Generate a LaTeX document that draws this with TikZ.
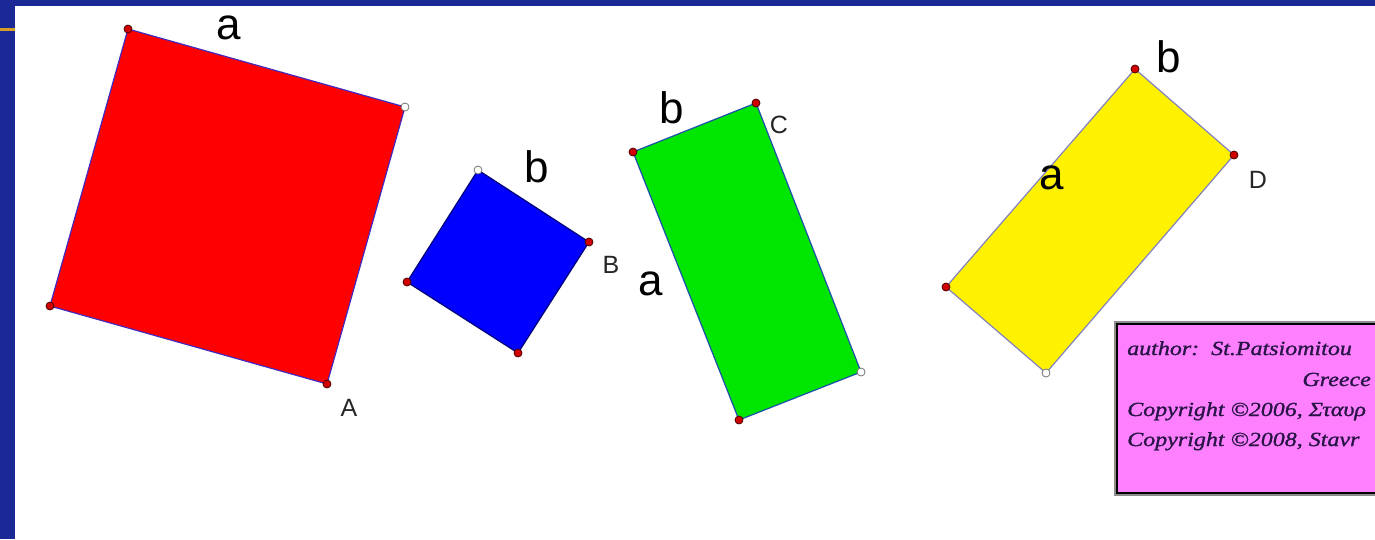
\documentclass[tikz,border=0pt]{standalone}
\usepackage{fontspec}
\setmainfont{Liberation Sans}
\newfontfamily\boxfont[FakeStretch=1.2,FakeBold=1.2]{Liberation Serif}
\definecolor{frameblue}{RGB}{27,41,150}
\definecolor{goldline}{RGB}{214,158,40}
\definecolor{pinkbox}{RGB}{255,128,255}
\definecolor{greenfill}{RGB}{0,230,0}
\definecolor{dotred}{RGB}{208,0,0}
\definecolor{boxink}{RGB}{40,20,70}
\tikzset{
  redpt/.style={circle,fill=dotred,draw=black!70!red,line width=0.8pt,inner sep=0pt,minimum size=8pt},
  whitept/.style={circle,fill=white,draw=black!55,line width=0.8pt,inner sep=0pt,minimum size=8pt},
  biglabel/.style={inner sep=0pt,font=\fontsize{44}{48}\selectfont},
  smalllabel/.style={inner sep=0pt,font=\fontsize{25}{28}\selectfont, text=black!85},
  boxtext/.style={inner sep=0pt,anchor=base west,font=\boxfont\itshape\fontsize{20}{22}\selectfont,text=boxink}
}
\begin{document}
\begin{tikzpicture}[x=1pt,y=-1pt]
\useasboundingbox (0,0) rectangle (1375,539);
\fill[white] (0,0) rectangle (1375,539);
% frame
\fill[frameblue] (0,0) rectangle (1375,6);
\fill[frameblue] (0,0) rectangle (15,539);
\fill[goldline] (0,28) rectangle (15,31);
% coordinates
\coordinate (R1) at (128,29);
\coordinate (R2) at (405,107);
\coordinate (R3) at (327,384);
\coordinate (R4) at (50,306);
\coordinate (B1) at (478,170);
\coordinate (B2) at (589,242);
\coordinate (B3) at (518,353);
\coordinate (B4) at (407,282);
\coordinate (G1) at (633,152);
\coordinate (G2) at (756,103);
\coordinate (G3) at (861,372);
\coordinate (G4) at (739,420);
\coordinate (Y1) at (1135,69);
\coordinate (Y2) at (1234,155);
\coordinate (Y3) at (1046,373);
\coordinate (Y4) at (946,287);
% shapes
\filldraw[fill=red,draw={rgb,255:red,70;green,40;blue,190},line width=1.2pt,line join=round] (R1) -- (R2) -- (R3) -- (R4) -- cycle;
\filldraw[fill=blue,draw={rgb,255:red,0;green,0;blue,120},line width=1.2pt,line join=round] (B1) -- (B2) -- (B3) -- (B4) -- cycle;
\filldraw[fill=greenfill,draw={rgb,255:red,30;green,80;blue,170},line width=1.2pt,line join=round] (G1) -- (G2) -- (G3) -- (G4) -- cycle;
\filldraw[fill=yellow,draw={rgb,255:red,130;green,130;blue,190},line width=1.2pt,line join=round] (Y1) -- (Y2) -- (Y3) -- (Y4) -- cycle;
% points
\node[redpt] (r1) at (R1) {};
\node[whitept] (r2) at (R2) {};
\node[redpt] (r3) at (R3) {};
\node[redpt] (r4) at (R4) {};
\node[whitept] (b1) at (B1) {};
\node[redpt] (b2) at (B2) {};
\node[redpt] (b3) at (B3) {};
\node[redpt] (b4) at (B4) {};
\node[redpt] (g1) at (G1) {};
\node[redpt] (g2) at (G2) {};
\node[whitept] (g3) at (G3) {};
\node[redpt] (g4) at (G4) {};
\node[redpt] (y1) at (Y1) {};
\node[redpt] (y2) at (Y2) {};
\node[whitept] (y3) at (Y3) {};
\node[redpt] (y4) at (Y4) {};
% labels
\node[biglabel] (la1) at (229,28) {a};
\node[smalllabel] (lA) at (349,408) {A};
\node[biglabel] (lb1) at (537,167) {b};
\node[smalllabel] (lB) at (611,265) {B};
\node[biglabel] (lb2) at (672,108) {b};
\node[smalllabel] (lC) at (779,125) {C};
\node[biglabel] (la2) at (651,284) {a};
\node[biglabel] (lb3) at (1169,57) {b};
\node[biglabel] (la3) at (1052,178) {a};
\node[smalllabel] (lD) at (1258,180) {D};
% author box
\begin{scope}
\clip (0,0) rectangle (1375,539);
\draw[black!45,line width=1.2pt] (1115,322) rectangle (1400,495);
\filldraw[fill=pinkbox,draw=black,line width=1.6pt] (1117,324) rectangle (1400,493);
\node[boxtext] (t1) at (1127,355) {author:\ \ St.Patsiomitou};
\node[boxtext,anchor=base east] (t2) at (1371,386) {Greece};
\node[boxtext] (t3) at (1127,416) {Copyright ©2006, Σταυρ};
\node[boxtext] (t4) at (1127,446) {Copyright ©2008, Stavr};
\end{scope}
\end{tikzpicture}
\end{document}
